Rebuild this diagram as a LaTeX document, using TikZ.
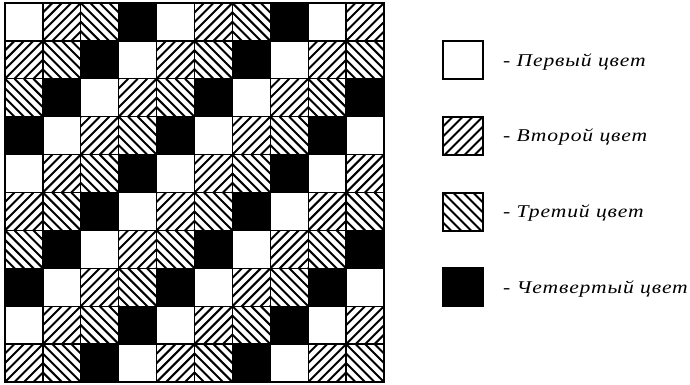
\documentclass[tikz,border=0pt]{standalone}
\usepackage{fontspec}
\setmainfont{Liberation Serif}
\newfontfamily\legfont[LetterSpace=4]{Liberation Serif}
\newcommand{\legstr}[1]{\scalebox{1.2}[1]{#1}}
\begin{document}
\begin{tikzpicture}[x=1pt,y=-1pt,
  cellline/.style={draw=black,line width=1.3pt},
  hatch/.style={line width=2pt},
  legtext/.style={anchor=base west,inner sep=0pt,font=\legfont\fontsize{18}{21}\selectfont\itshape}]
\useasboundingbox (0,0) rectangle (690,384);
\def\s{37.9}
\pgfmathsetmacro{\hd}{\s/4}
% grid 10x10, colour index (i+j) mod 4: 0 white, 1 "/", 2 "\", 3 black
\foreach \i in {0,...,9}{
  \foreach \j in {0,...,9}{
    \pgfmathtruncatemacro{\c}{mod(\i+\j,4)}
    \pgfmathsetmacro{\xo}{5+\s*\j}
    \pgfmathsetmacro{\yo}{3+\s*\i}
    \begin{scope}[shift={(\xo,\yo)}]
      \ifnum\c=3
        \fill[black] (0,0) rectangle (\s,\s);
      \fi
      \ifnum\c=1
        \begin{scope}
          \clip (0,0) rectangle (\s,\s);
          \foreach \k in {0,...,8}{
            \draw[hatch] ({\k*\hd},0) -- ({\k*\hd-2*\s},{2*\s});
          }
        \end{scope}
      \fi
      \ifnum\c=2
        \begin{scope}
          \clip (0,0) rectangle (\s,\s);
          \foreach \k in {-4,...,4}{
            \draw[hatch] ({\k*\hd},0) -- ({\k*\hd+2*\s},{2*\s});
          }
        \end{scope}
      \fi
      \draw[cellline] (0,0) rectangle (\s,\s);
    \end{scope}
  }
}
\draw[line width=2pt] (5,3) rectangle ({5+10*\s},{3+10*\s});
% legend
\def\bw{40}
\pgfmathsetmacro{\ld}{\bw/4}
\foreach \n/\yc/\c in {1/60/0,2/135.5/1,3/211.5/2,4/287/3}{
  \begin{scope}[shift={(443,{\yc-19})}]
    \ifnum\c=3 \fill[black] (0,0) rectangle (\bw,38); \fi
    \ifnum\c=1
      \begin{scope}
        \clip (0,0) rectangle (\bw,38);
        \foreach \k in {0,...,8}{
          \draw[hatch] ({\k*\ld},0) -- ({\k*\ld-80},80);
        }
      \end{scope}
    \fi
    \ifnum\c=2
      \begin{scope}
        \clip (0,0) rectangle (\bw,38);
        \foreach \k in {-4,...,4}{
          \draw[hatch] ({\k*\ld},0) -- ({\k*\ld+80},80);
        }
      \end{scope}
    \fi
    \draw[line width=2pt] (0,0) rectangle (\bw,38);
  \end{scope}
}
\node[legtext] (t1) at (503,66) {\legstr{- Первый цвет}};
\node[legtext] (t2) at (503,141.5) {\legstr{- Второй цвет}};
\node[legtext] (t3) at (503,217) {\legstr{- Третий цвет}};
\node[legtext] (t4) at (503,293) {\legstr{- Четвертый цвет}};
\end{tikzpicture}
\end{document}
